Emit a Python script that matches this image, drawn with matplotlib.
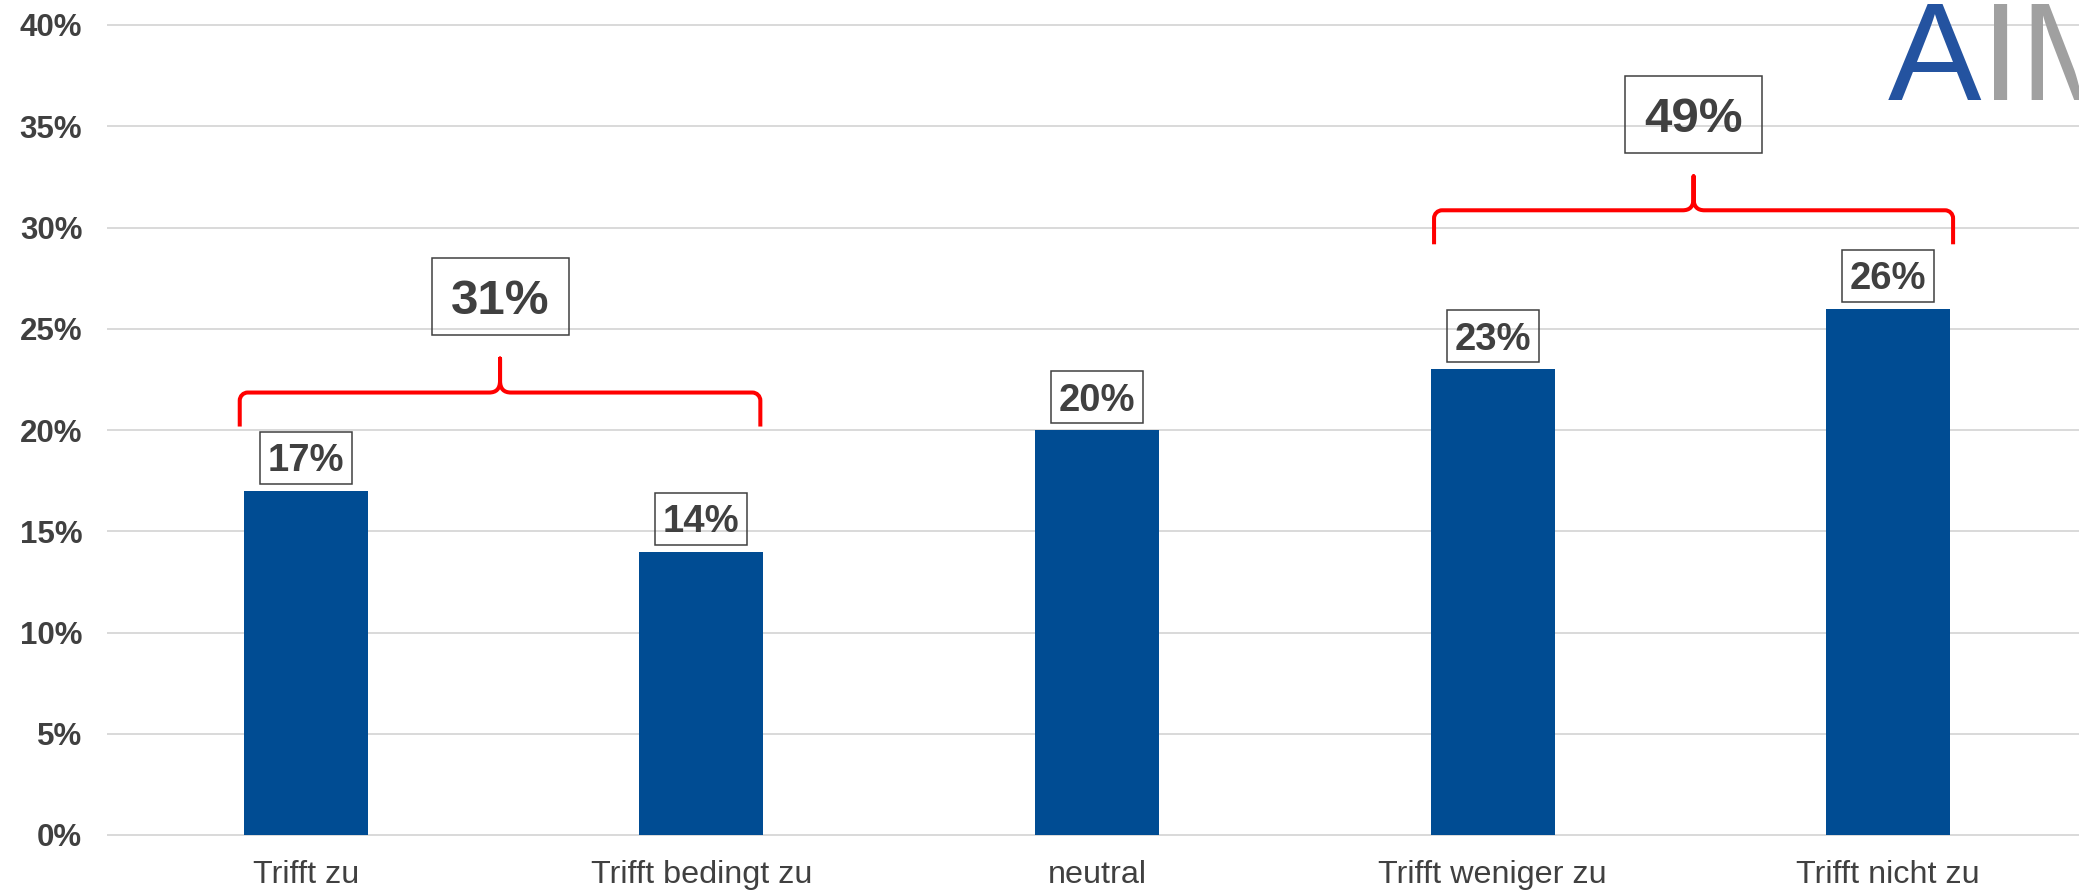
import matplotlib
matplotlib.use("Agg")
import matplotlib.pyplot as plt
from matplotlib.path import Path
from matplotlib.patches import PathPatch, Rectangle
from matplotlib.transforms import ScaledTranslation

# ---------------- data ----------------
categories = ["Trifft zu", "Trifft bedingt zu", "neutral", "Trifft weniger zu", "Trifft nicht zu"]
values = [17, 14, 20, 23, 26]
value_labels = ["17%", "14%", "20%", "23%", "26%"]
y_ticks = [0, 5, 10, 15, 20, 25, 30, 35, 40]
y_tick_labels = ["0%", "5%", "10%", "15%", "20%", "25%", "30%", "35%", "40%"]
groups = [(0, 1), (3, 4)]
group_labels = ["31%", "49%"]

# ---------------- style ----------------
plt.rcParams['font.family'] = ['Liberation Sans', 'DejaVu Sans']
W, H, DPI = 2079, 891, 100
TXT = '#404040'
BAR = '#004C93'

fig = plt.figure(figsize=(W / DPI, H / DPI), dpi=DPI)
fig.patch.set_facecolor('white')
ax = fig.add_axes([108 / W, 56 / H, 1978 / W, 810 / H])

x = list(range(len(categories)))
ax.bar(x, values, width=0.313, color=BAR, zorder=2)
ax.set_xlim(-0.5, 4.5)
ax.set_ylim(0, 40)
ax.set_yticks(y_ticks, y_tick_labels)
ax.set_xticks(x, categories)
ax.grid(axis='y', color='#D9D9D9', lw=1.4)
ax.grid(axis='x', visible=False)
ax.set_axisbelow(True)
for gl in ax.get_ygridlines():
    gl.set_clip_on(False)
for s in ax.spines.values():
    s.set_visible(False)
ax.tick_params(axis='y', length=0, pad=18.5, labelsize=22.5, labelcolor=TXT)
for t in ax.get_yticklabels():
    t.set_fontweight('bold')
ax.tick_params(axis='x', length=0, pad=18, labelsize=23.3, labelcolor=TXT)


def boxed_text(xd, yd, dy_px, text, fs_pt, w_px, h_px, lw=1.1):
    base = ScaledTranslation(xd, yd, ax.transData)
    rect = Rectangle(((-w_px / 2) / DPI, (dy_px - h_px / 2) / DPI),
                     w_px / DPI, h_px / DPI,
                     transform=fig.dpi_scale_trans + base,
                     fill=False, edgecolor=TXT, lw=lw, clip_on=False, zorder=4)
    ax.add_patch(rect)
    fs_px = fs_pt / 72 * DPI
    ax.annotate(text, (xd, yd), xytext=(0, (dy_px - 0.358 * fs_px) * 0.72),
                textcoords='offset points', ha='center', va='baseline',
                fontsize=fs_pt, fontweight='bold', color=TXT,
                annotation_clip=False, zorder=5)


# value labels above bars
for xi, v, lab in zip(x, values, value_labels):
    boxed_text(xi, v, 33, lab, 27.5, 92, 52)


def brace(x_left, x_right, y_h):
    inv = ax.transData.inverted()
    Lx, Hy = ax.transData.transform((x_left, y_h))
    Rx, _ = ax.transData.transform((x_right, y_h))
    Cx = (Lx + Rx) / 2
    end, peak, r, c, ch = 34, 34, 8, 11, 12
    verts = [
        (Lx, Hy - end), (Lx, Hy - r),
        (Lx, Hy - r * 0.45), (Lx + r * 0.45, Hy), (Lx + r, Hy),
        (Cx - c, Hy),
        (Cx - c * 0.35, Hy), (Cx, Hy + ch * 0.3), (Cx, Hy + ch),
        (Cx, Hy + peak),
        (Cx, Hy + ch),
        (Cx, Hy + ch * 0.3), (Cx + c * 0.35, Hy), (Cx + c, Hy),
        (Rx - r, Hy),
        (Rx - r * 0.45, Hy), (Rx, Hy - r * 0.45), (Rx, Hy - r),
        (Rx, Hy - end),
    ]
    codes = [Path.MOVETO, Path.LINETO,
             Path.CURVE4, Path.CURVE4, Path.CURVE4,
             Path.LINETO,
             Path.CURVE4, Path.CURVE4, Path.CURVE4,
             Path.LINETO,
             Path.LINETO,
             Path.CURVE4, Path.CURVE4, Path.CURVE4,
             Path.LINETO,
             Path.CURVE4, Path.CURVE4, Path.CURVE4,
             Path.LINETO]
    dverts = inv.transform(verts)
    patch = PathPatch(Path(dverts, codes), fill=False, edgecolor='#FF0000',
                      lw=2.9, clip_on=False, zorder=6, capstyle='butt',
                      joinstyle='round')
    ax.add_patch(patch)
    return (x_left + x_right) / 2


brace_pads = [(0.167, 0.149), (0.148, 0.164)]
for (i, j), lab, (pl, pr) in zip(groups, group_labels, brace_pads):
    yh = max(values[i], values[j]) + 4.85
    xc = brace(i - pl, j + pr, yh)
    boxed_text(xc, yh, 96, lab, 35.5, 137, 77)

# logo (partially cut at right edge, as in the reference)
fig.text(1888 / W, (H - 100) / H, "A", fontsize=101, color='#2453A0',
         ha='left', va='baseline')
fig.text(1981 / W, (H - 100) / H, "IM", fontsize=101, color='#A0A0A0',
         ha='left', va='baseline')

fig.savefig("out.png", dpi=DPI, facecolor='white')
